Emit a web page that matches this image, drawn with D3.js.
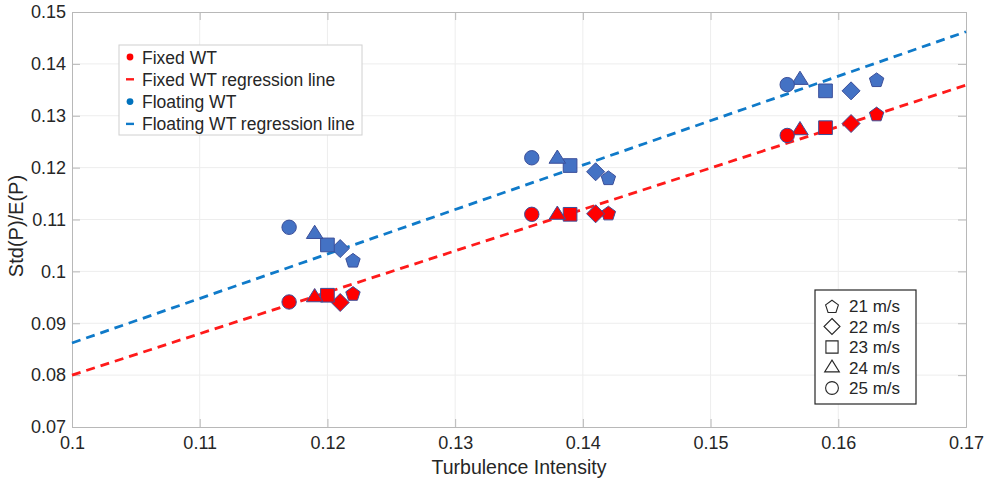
<!DOCTYPE html>
<html>
<head>
<meta charset="utf-8">
<script src="https://cdn.jsdelivr.net/npm/d3@7"></script>
<style>
	body { margin: 0; background: #fff; }
	text { font-family: "Liberation Sans", Arial, sans-serif; fill: #262626; }
</style>
</head>
<body>
<svg id="svg_chart" width="984" height="479"></svg>
<script>
// wind speeds and the marker used for each
var speeds = ["21 m/s", "22 m/s", "23 m/s", "24 m/s", "25 m/s"];
var shapes = ["pentagon", "diamond", "square", "triangle", "circle"];

// turbulence intensity, three groups, each ordered 21..25 m/s
var tiValues = [
	[0.122, 0.121, 0.120, 0.119, 0.117],
	[0.142, 0.141, 0.139, 0.138, 0.136],
	[0.163, 0.161, 0.159, 0.157, 0.156]
];
var fixedValues = [
	[0.0958, 0.0940, 0.0954, 0.0951, 0.0941],
	[0.1113, 0.1111, 0.1110, 0.1110, 0.1110],
	[0.1304, 0.1285, 0.1277, 0.1273, 0.1262]
];
var floatingValues = [
	[0.1022, 0.1044, 0.1051, 0.1073, 0.1085],
	[0.1181, 0.1192, 0.1204, 0.1218, 0.1219],
	[0.1370, 0.1348, 0.1348, 0.1370, 0.1360]
];
// regression lines: [TI, value] at both ends of the axis
var fixedLine = [[0.1, 0.0800], [0.17, 0.1359]];
var floatingLine = [[0.1, 0.0862], [0.17, 0.1462]];

var xTicks = [0.1, 0.11, 0.12, 0.13, 0.14, 0.15, 0.16, 0.17];
var yTicks = [0.07, 0.08, 0.09, 0.1, 0.11, 0.12, 0.13, 0.14, 0.15];

var legendNames = ["Fixed WT", "Fixed WT regression line", "Floating WT", "Floating WT regression line"];

var svg = d3.select("#svg_chart"),
	margin = {top: 12, left: 72, right: 18, bottom: 52},
	width = +svg.attr("width"),
	height = +svg.attr("height");

var x = d3.scaleLinear().domain([0.1, 0.17]).range([margin.left, width - margin.right]);
var y = d3.scaleLinear().domain([0.07, 0.15]).range([height - margin.bottom, margin.top]);

var colors = {
	red: "#ff0000",
	blue: "#4472c4",
	line_red: "#ff1a1a",
	line_blue: "#0f7ac9",
	edge: "#3b4f9a"
};

function shapePath(type, r) {
	if (type == "circle") {
		var p = d3.path();
		p.arc(0, 0, r, 0, 2 * Math.PI);
		p.closePath();
		return p.toString();
	}
	var pts = [];
	if (type == "pentagon") {
		for (var i = 0; i < 5; ++i) {
			var a = -Math.PI / 2 + i * 2 * Math.PI / 5;
			pts.push([r * 1.05 * Math.cos(a), r * 1.05 * Math.sin(a) + 1]);
		}
	} else if (type == "diamond") {
		var d = r * 1.25;
		pts = [[0, -d], [d, 0], [0, d], [-d, 0]];
	} else if (type == "square") {
		var s = r * 0.95;
		pts = [[-s, -s], [s, -s], [s, s], [-s, s]];
	} else if (type == "triangle") {
		var t = r * 1.15;
		pts = [[0, -t], [t, t * 0.6], [-t, t * 0.6]];
	}
	return "M" + pts.map(function(p) { return p.join(","); }).join("L") + "Z";
}

// grid
var g_grid = svg.append("g").attr("class", "grid");
g_grid.selectAll("line.gx").data(xTicks.slice(1, -1)).enter().append("line")
	.attr("x1", function(d) { return x(d); }).attr("x2", function(d) { return x(d); })
	.attr("y1", y(0.07)).attr("y2", y(0.15))
	.attr("stroke", "#ededed").attr("stroke-width", 1);
g_grid.selectAll("line.gy").data(yTicks.slice(1, -1)).enter().append("line")
	.attr("y1", function(d) { return y(d); }).attr("y2", function(d) { return y(d); })
	.attr("x1", x(0.1)).attr("x2", x(0.17))
	.attr("stroke", "#ededed").attr("stroke-width", 1);

// axes (ticks inward on all four sides)
var fmt = function(d) { return d3.format("")(+d.toFixed(2)); };
var axisBottom = d3.axisBottom(x).tickValues(xTicks).tickSize(-8).tickPadding(9).tickFormat(fmt);
var axisLeft = d3.axisLeft(y).tickValues(yTicks).tickSize(-8).tickPadding(6).tickFormat(fmt);
var axisTop = d3.axisTop(x).tickValues(xTicks).tickSize(-8).tickFormat("");
var axisRight = d3.axisRight(y).tickValues(yTicks).tickSize(-8).tickFormat("");

function styleAxis(g) {
	g.select(".domain").attr("stroke", "#b8b8b8");
	g.selectAll(".tick line").attr("stroke", "#b8b8b8");
	g.selectAll(".tick text").attr("font-size", 18).attr("fill", "#262626")
		.attr("font-family", "Liberation Sans, Arial, sans-serif");
}
svg.append("g").attr("transform", "translate(0," + y(0.07) + ")").call(axisBottom).call(styleAxis);
svg.append("g").attr("transform", "translate(" + x(0.1) + ",0)").call(axisLeft).call(styleAxis);
svg.append("g").attr("transform", "translate(0," + y(0.15) + ")").call(axisTop).call(styleAxis);
svg.append("g").attr("transform", "translate(" + x(0.17) + ",0)").call(axisRight).call(styleAxis);

svg.append("text")
	.attr("x", (x(0.1) + x(0.17)) / 2).attr("y", 474)
	.attr("text-anchor", "middle").attr("font-size", 19.5)
	.text("Turbulence Intensity");
svg.append("text")
	.attr("transform", "translate(23,226) rotate(-90)")
	.attr("text-anchor", "middle").attr("font-size", 20)
	.text("Std(P)/E(P)");

// regression lines
var line = d3.line().x(function(d) { return x(d[0]); }).y(function(d) { return y(d[1]); });
svg.append("path").attr("d", line(fixedLine))
	.attr("fill", "none").attr("stroke", colors.line_red)
	.attr("stroke-width", 2.8).attr("stroke-dasharray", "9,6");
svg.append("path").attr("d", line(floatingLine))
	.attr("fill", "none").attr("stroke", colors.line_blue)
	.attr("stroke-width", 2.8).attr("stroke-dasharray", "9,6");

// points
var points = [];
for (var g = 0; g < tiValues.length; ++g) {
	for (var i = 0; i < speeds.length; ++i) {
		points.push({ti: tiValues[g][i], value: floatingValues[g][i], shape: shapes[i], color: colors.blue});
		points.push({ti: tiValues[g][i], value: fixedValues[g][i], shape: shapes[i], color: colors.red});
	}
}
svg.append("g").attr("class", "points").selectAll("path").data(points).enter()
	.append("path")
	.attr("d", function(d) { return shapePath(d.shape, 7.2); })
	.attr("transform", function(d) { return "translate(" + x(d.ti) + "," + y(d.value) + ")"; })
	.attr("fill", function(d) { return d.color; })
	.attr("stroke", colors.edge)
	.attr("stroke-width", 1);

// legend 1
var leg1 = svg.append("g").attr("transform", "translate(119,45)");
leg1.append("rect").attr("width", 243).attr("height", 90)
	.attr("fill", "#fff").attr("stroke", "#d0d0d0");
var legColors = [colors.red, colors.line_red, "#0072bd", colors.line_blue];
leg1.selectAll("g.item").data(legendNames).enter().append("g")
	.attr("transform", function(d, i) { return "translate(0," + (12 + i * 22.3) + ")"; })
	.each(function(d, i) {
		var item = d3.select(this);
		if (i % 2 == 0) {
			item.append("circle").attr("cx", 11).attr("cy", 0).attr("r", 3.4).attr("fill", legColors[i]);
		} else {
			item.append("line").attr("x1", 7).attr("x2", 15).attr("y1", 0).attr("y2", 0)
				.attr("stroke", legColors[i]).attr("stroke-width", 2.4);
		}
		item.append("text").attr("x", 23).attr("y", 6.5).attr("font-size", 17.5).text(d);
	});

// legend 2
var leg2 = svg.append("g").attr("transform", "translate(815,290)");
leg2.append("rect").attr("width", 101).attr("height", 114)
	.attr("fill", "#fff").attr("stroke", "#262626").attr("stroke-width", 1.2);
leg2.selectAll("g.item").data(speeds).enter().append("g")
	.attr("transform", function(d, i) { return "translate(0," + (16 + i * 20.5) + ")"; })
	.each(function(d, i) {
		var item = d3.select(this);
		item.append("path").attr("d", shapePath(shapes[i], 6.4))
			.attr("transform", "translate(17,0)")
			.attr("fill", "none").attr("stroke", "#262626").attr("stroke-width", 1.1);
		item.append("text").attr("x", 34).attr("y", 6).attr("font-size", 17).text(d);
	});
</script>
</body>
</html>
